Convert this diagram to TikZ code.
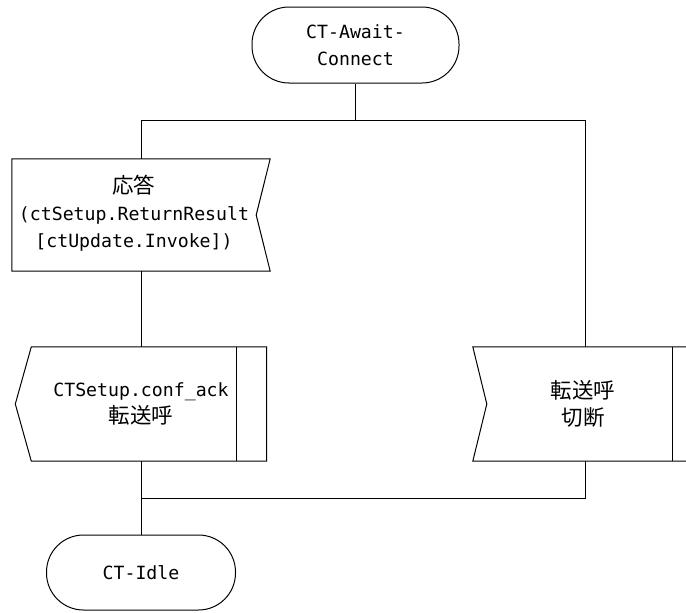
\documentclass[tikz,border=0pt]{standalone}
\usepackage{fontspec}
\setmainfont{DejaVu Sans Mono}
\newfontfamily\cjkfont{Noto Sans CJK JP}
\newcommand{\jp}[1]{{\cjkfont\fontsize{21.5}{27}\selectfont #1}}
\usetikzlibrary{calc}

\begin{document}
\begin{tikzpicture}[x=1pt,y=-1pt,
  every node/.style={font=\fontsize{18.2}{27}\selectfont, align=center, inner sep=0pt},
  outline/.style={draw=black, line width=1pt, line join=miter},
  terminal/.style={outline, rounded corners=37pt},
  wire/.style={draw=black, line width=1pt}]
\useasboundingbox (0,0) rectangle (686,613);
\clip (0,0) rectangle (686,613);

% start state
\node[terminal, minimum width=207pt, minimum height=76pt] (await) at (355.5,45)
  {CT-Await-\\Connect};

% input symbol (notch on the right)
\node[minimum width=258pt, minimum height=112pt] (answer) at (141,215) {};
\draw[outline] (answer.north west) -- (answer.north east)
  -- ($(answer.east)+(-14,0)$) -- (answer.south east)
  -- (answer.south west) -- cycle;
\node (answertext) at (134,213)
  {\jp{応答}\\(ctSetup.ReturnResult\\{}[ctUpdate.Invoke])};

% output symbol with bar
\node[minimum width=251pt, minimum height=114pt] (conf) at (141,404)
  {CTSetup.conf\_ack\\\jp{転送呼}};
\draw[outline] (conf.north east) -- (conf.south east)
  -- ($(conf.south west)+(16,0)$) -- (conf.west)
  -- ($(conf.north west)+(16,0)$) -- cycle;
\draw[outline] ($(conf.north east)+(-30,0)$) -- ($(conf.south east)+(-30,0)$);

% input symbol with bar (notch on the left)
\node[minimum width=224pt, minimum height=114pt] (release) at (585,404) {};
\draw[outline] (release.north west) -- (release.north east)
  -- (release.south east) -- (release.south west)
  -- ($(release.west)+(14,0)$) -- cycle;
\draw[outline] ($(release.north east)+(-25,0)$) -- ($(release.south east)+(-25,0)$);
\node (releasetext) at (583,404) {\jp{転送呼}\\\jp{切断}};

% next state
\node[terminal, minimum width=189pt, minimum height=75pt] (idle) at (141,572.5)
  {CT-Idle};

% connectors
\coordinate (fork) at (355.5,120);
\coordinate (merge) at (141,498);
\draw[wire] (await.south) -- (fork);
\draw[wire] (fork) -| (answer.north);
\draw[wire] (fork) -| (release.north);
\draw[wire] (answer.south) -- (conf.north);
\draw[wire] (conf.south) -- (idle.north);
\draw[wire] (release.south) |- (merge);
\end{tikzpicture}
\end{document}
